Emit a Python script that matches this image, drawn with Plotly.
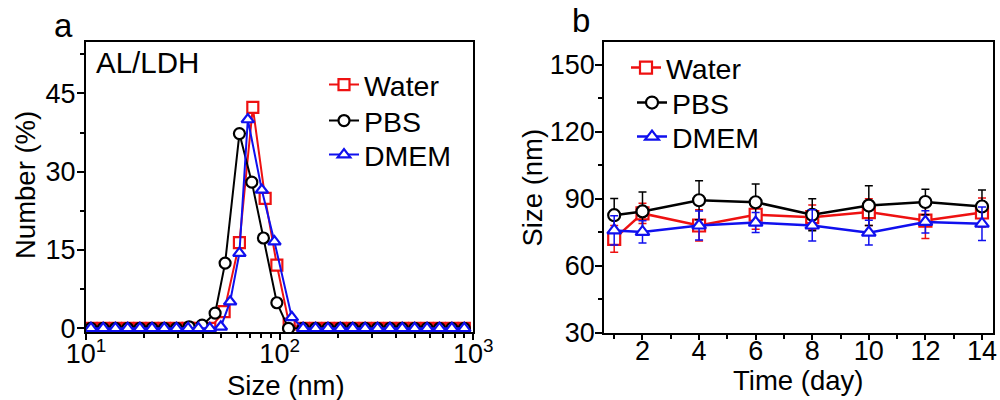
import plotly.graph_objects as go

# ---------------- Panel a: size distribution (Number %) ----------------
water_size = [10.61, 12.27, 14.19, 16.41, 18.97, 21.93, 25.36, 29.32, 33.66, 38.05, 43.58,
              51.67, 61.98, 72.68, 84.16, 96.72, 112.0,
              132.2, 153.3, 177.6, 205.7, 238.4, 276.3, 320.2, 371.1, 429.7, 498.0, 577.1, 668.8, 775.1, 898.5]
water_num = [0, 0, 0, 0, 0, 0, 0, 0, 0, 0, 0,
             3.2, 16.4, 42.3, 24.9, 12.1, 0.8,
             0, 0, 0, 0, 0, 0, 0, 0, 0, 0, 0, 0, 0, 0]

pbs_size = [10.61, 12.27, 14.19, 16.41, 18.97, 21.93, 25.36, 29.32,
            34.07, 39.77, 46.42, 52.28, 61.98, 71.81, 82.47, 96.72, 111.1,
            132.2, 153.3, 177.6, 205.7, 238.4, 276.3, 320.2, 371.1, 429.7, 498.0, 577.1, 668.8, 775.1, 898.5]
pbs_num = [0, 0, 0, 0, 0, 0, 0, 0,
           0.3, 0.6, 2.9, 12.5, 37.3, 28.0, 17.3, 4.9, 0,
           0, 0, 0, 0, 0, 0, 0, 0, 0, 0, 0, 0, 0, 0]

dmem_size = [10.61, 12.27, 14.19, 16.41, 18.97, 21.93, 25.36, 29.32, 33.66, 38.05, 43.58,
             49.68, 55.50, 61.98, 68.49, 80.91, 93.99, 115.6,
             132.2, 153.3, 177.6, 205.7, 238.4, 276.3, 320.2, 371.1, 429.7, 498.0, 577.1, 668.8, 775.1, 898.5]
dmem_num = [0, 0, 0, 0, 0, 0, 0, 0, 0, 0, 0,
            0.3, 5.1, 14.4, 40.0, 26.5, 16.6, 2.1,
            0, 0, 0, 0, 0, 0, 0, 0, 0, 0, 0, 0, 0, 0]

# ---------------- Panel b: size vs time ----------------
days = [1, 2, 4, 6, 8, 10, 12, 14]
water_day = [72.0, 83.4, 78.0, 82.8, 81.7, 84.0, 80.2, 83.8]
water_err = [6.0, 4.5, 7.0, 6.5, 5.5, 6.0, 8.0, 6.5]
pbs_day = [82.6, 84.3, 89.3, 88.4, 82.8, 86.9, 88.5, 86.5]
pbs_err = [7.5, 8.7, 8.7, 8.2, 7.2, 8.9, 5.7, 7.4]
dmem_day = [75.8, 75.1, 78.0, 79.3, 78.0, 74.8, 79.6, 78.8]
dmem_err = [6.5, 5.0, 6.5, 4.5, 7.0, 5.5, 5.0, 7.5]

series_names = ["Water", "PBS", "DMEM"]
colors = ["#ee1111", "#000000", "#1010ee"]
symbols = ["square", "circle", "triangle-up"]

FONT = "Liberation Sans, Arial, sans-serif"
TICK_FS = 27
TITLE_FS = 27.5
LEG_FS = 28.5

fig = go.Figure()

legends_a = ["legend", "legend2", "legend3"]
legends_b = ["legend4", "legend5", "legend6"]

a_sizes = [water_size, pbs_size, dmem_size]
a_vals = [water_num, pbs_num, dmem_num]
for name, xs, ys, c, s, lg in zip(series_names, a_sizes, a_vals, colors, symbols, legends_a):
    fig.add_trace(go.Scatter(
        x=xs, y=ys, name=name, mode="lines+markers",
        line=dict(color=c, width=2),
        marker=dict(symbol=s, size=11, color="white", line=dict(color=c, width=2.2)),
        xaxis="x", yaxis="y", legend=lg))

b_vals = [water_day, pbs_day, dmem_day]
b_errs = [water_err, pbs_err, dmem_err]
for name, ys, es, c, s, lg in zip(series_names, b_vals, b_errs, colors, symbols, legends_b):
    fig.add_trace(go.Scatter(
        x=days, y=ys, name=name, mode="lines+markers",
        line=dict(color=c, width=2.5),
        marker=dict(symbol=s, size=12, color="white", line=dict(color=c, width=2.2)),
        error_y=dict(type="data", array=es, visible=True, color=c, thickness=1.5, width=4),
        xaxis="x2", yaxis="y2", legend=lg))

axis_common = dict(showline=True, linecolor="black", linewidth=2, mirror=True,
                   ticks="outside", tickcolor="black", tickwidth=2,
                   showgrid=False, zeroline=False, automargin=False,
                   tickfont=dict(family=FONT, size=TICK_FS, color="black"))
minor_common = dict(ticks="outside", ticklen=4, tickwidth=1.5, tickcolor="black", showgrid=False)


def legend_box(x_px, y_px):
    return dict(x=x_px / 1000, y=1 - y_px / 400, xanchor="left", yanchor="middle",
                bgcolor="rgba(0,0,0,0)", borderwidth=0,
                font=dict(family=FONT, size=LEG_FS, color="black"))


fig.update_layout(
    width=1000, height=400, autosize=False,
    margin=dict(l=0, r=0, t=0, b=0, pad=0),
    paper_bgcolor="white", plot_bgcolor="white",
    font=dict(family=FONT, color="black"),
    xaxis=dict(domain=[0.086, 0.4733], type="log", range=[1, 3],
               tickvals=[10, 100, 1000],
               ticktext=["10<sup>1</sup>", "10<sup>2</sup>", "10<sup>3</sup>"],
               ticklen=6, ticklabelstandoff=-9,
               minor=dict(tickvals=[20, 30, 40, 50, 60, 70, 80, 90,
                                    200, 300, 400, 500, 600, 700, 800, 900], **minor_common),
               anchor="y", **axis_common),
    yaxis=dict(domain=[0.17, 0.8958], range=[-0.7, 54.9],
               tickvals=[0, 15, 30, 45], ticklen=7, ticklabelstandoff=-4,
               minor=dict(tickvals=[7.5, 22.5, 37.5, 52.5], **minor_common),
               anchor="x", **axis_common),
    xaxis2=dict(domain=[0.6043, 0.9933], range=[0.65, 14.4],
                tickvals=[2, 4, 6, 8, 10, 12, 14], ticklen=5, ticklabelstandoff=-12,
                minor=dict(tickvals=[1, 3, 5, 7, 9, 11, 13], **minor_common),
                anchor="y2", **axis_common),
    yaxis2=dict(domain=[0.16825, 0.89425], range=[30, 160],
                tickvals=[30, 60, 90, 120, 150], ticklen=7, ticklabelstandoff=-5,
                minor=dict(tickvals=[45, 75, 105, 135], **minor_common),
                anchor="x2", **axis_common),
    legend=legend_box(324, 85),
    legend2=legend_box(324, 121),
    legend3=legend_box(324, 155),
    legend4=legend_box(626, 68),
    legend5=legend_box(632, 103),
    legend6=legend_box(632, 137),
    showlegend=True,
)

ann_font = dict(family=FONT, size=TITLE_FS, color="black")
annotations = [
    dict(text="a", x=0.063, y=1 - 26 / 400, xref="paper", yref="paper",
         xanchor="center", yanchor="middle", showarrow=False,
         font=dict(family=FONT, size=33, color="black")),
    dict(text="b", x=0.581, y=1 - 20 / 400, xref="paper", yref="paper",
         xanchor="center", yanchor="middle", showarrow=False,
         font=dict(family=FONT, size=33, color="black")),
    dict(text="AL/LDH", x=0.094, y=1 - 62 / 400, xref="paper", yref="paper",
         xanchor="left", yanchor="middle", showarrow=False,
         font=dict(family=FONT, size=29.5, color="black")),
    dict(text="Number (%)", x=0.025, y=1 - 185 / 400, xref="paper", yref="paper",
         xanchor="center", yanchor="middle", textangle=-90, showarrow=False, font=ann_font),
    dict(text="Size (nm)", x=0.286, y=1 - 385 / 400, xref="paper", yref="paper",
         xanchor="center", yanchor="middle", showarrow=False, font=ann_font),
    dict(text="Size (nm)", x=0.5315, y=1 - 188 / 400, xref="paper", yref="paper",
         xanchor="center", yanchor="middle", textangle=-90, showarrow=False, font=ann_font),
    dict(text="Time (day)", x=0.798, y=1 - 380 / 400, xref="paper", yref="paper",
         xanchor="center", yanchor="middle", showarrow=False, font=ann_font),
]
fig.update_layout(annotations=annotations)

fig.write_html("out.html", config={"displayModeBar": False},
               post_script="document.body.style.margin='0px';")
